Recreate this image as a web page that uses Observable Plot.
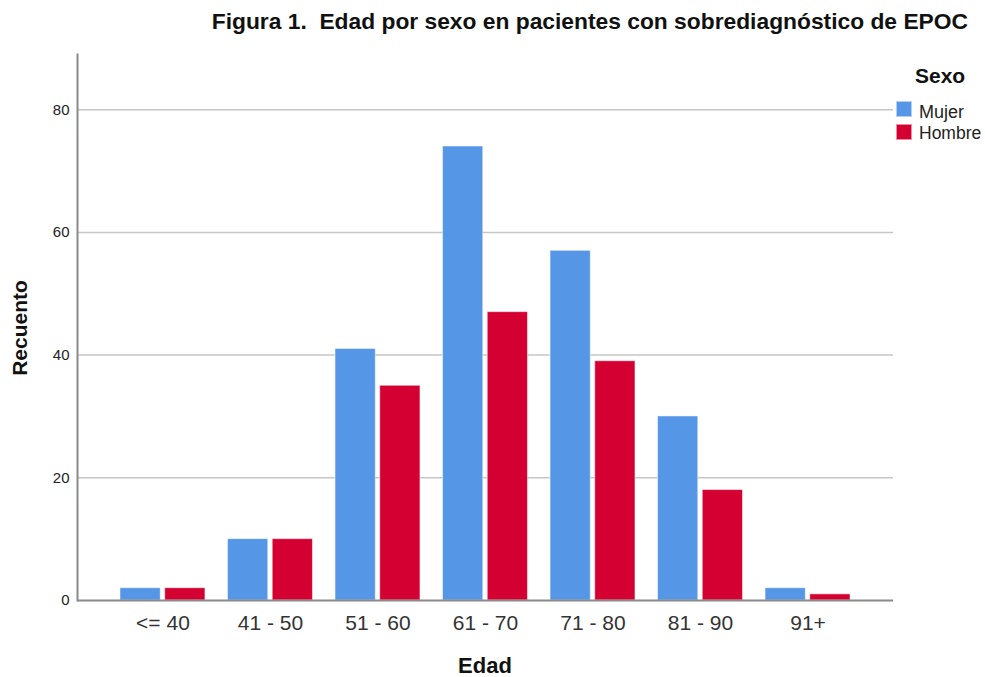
<!DOCTYPE html>
<html>
<head>
<meta charset="utf-8">
<script src="https://cdn.jsdelivr.net/npm/d3@7"></script>
<script src="https://cdn.jsdelivr.net/npm/@observablehq/plot@0.6"></script>
<style>
  body { margin: 0; background: #fff; font-family: "Liberation Sans", Arial, sans-serif; }
  #wrap { position: relative; width: 985px; height: 677px; background: #fff; overflow: hidden; }
  #wrap svg { position: absolute; left: 0; top: 0; }
  .t { position: absolute; white-space: pre; line-height: 1; }
  .title { right: 17px; top: 10px; font-size: 22.8px; font-weight: bold; color: #111; }
  .ylab { left: 20px; top: 328px; transform: translate(-50%, -50%) rotate(-90deg); font-size: 21px; font-weight: bold; color: #111; line-height: normal; }
  .xlab { left: 485px; top: 665.5px; transform: translate(-50%, -50%); font-size: 22px; font-weight: bold; color: #111; }
  .lt { left: 915px; top: 65px; font-size: 21px; font-weight: bold; color: #111; }
  .sw { position: absolute; left: 896px; width: 16px; height: 16px; box-sizing: border-box; border: 1px solid rgba(255,255,255,0.55); }
  .li { left: 919px; color: #222; }
</style>
</head>
<body>
<div id="wrap"></div>
<script>
const ages = ["<= 40", "41 - 50", "51 - 60", "61 - 70", "71 - 80", "81 - 90", "91+"];
const sexes = ["Mujer", "Hombre"];
const mujer = [2, 10, 41, 74, 57, 30, 2];
const hombre = [2, 10, 35, 47, 39, 18, 1];
const colors = ["#5596E6", "#D50032"];
const yTicks = [0, 20, 40, 60, 80];
const titleText = "Figura 1.  Edad por sexo en pacientes con sobrediagnóstico de EPOC";
const yLabel = "Recuento";
const xLabel = "Edad";
const legendTitle = "Sexo";

const data = [];
ages.forEach((a, i) => {
  data.push({age: a, sex: "Mujer", count: mujer[i]});
  data.push({age: a, sex: "Hombre", count: hombre[i]});
});

const wrap = document.getElementById("wrap");

const common = {
  width: 985,
  height: 677,
  marginTop: 54,
  marginBottom: 77,
  marginLeft: 77,
  marginRight: 92,
  style: {fontFamily: "'Liberation Sans', Arial, sans-serif", background: "transparent", overflow: "visible"},
  y: {domain: [0, 89], label: null, axis: null}
};

// Base layer: gridlines and y axis
wrap.appendChild(Plot.plot({
  ...common,
  marks: [
    Plot.ruleY(yTicks.filter(d => d > 0), {stroke: "#c6c6c6", strokeWidth: 1.5}),
    Plot.axisY({ticks: yTicks, tickSize: 0, tickPadding: 8, fontSize: 15, label: null, fill: "#222"})
  ]
}));

// Bar layer: grouped bars via fx facets
wrap.appendChild(Plot.plot({
  ...common,
  fx: {domain: ages, paddingInner: 0.21, paddingOuter: 0.4, round: false, label: null},
  x: {domain: sexes, paddingInner: 0.1, paddingOuter: 0, round: false, axis: null},
  color: {domain: sexes, range: colors},
  marks: [
    Plot.barY(data, {fx: "age", x: "sex", y: "count", fill: "sex", stroke: "white", strokeOpacity: 0.5, strokeWidth: 1}),
    Plot.axisFx({anchor: "bottom", tickSize: 0, tickPadding: 15, fontSize: 21, label: null, fill: "#333"})
  ]
}));

// Top layer: axis lines
wrap.appendChild(Plot.plot({
  ...common,
  marks: [
    Plot.ruleY([0], {stroke: "#8a8a8a", strokeWidth: 2}),
    Plot.frame({anchor: "left", stroke: "#8a8a8a", strokeWidth: 2})
  ]
}));

function addText(cls, text, style) {
  const d = document.createElement("div");
  d.className = "t " + cls;
  d.textContent = text;
  if (style) Object.assign(d.style, style);
  wrap.appendChild(d);
  return d;
}
addText("title", titleText);
addText("ylab", yLabel);
addText("xlab", xLabel);
addText("lt", legendTitle);
const swTops = [101, 124];
const labTops = [103, 125];
const labSizes = ["18px", "17.5px"];
sexes.forEach((s, i) => {
  const sw = document.createElement("div");
  sw.className = "sw";
  sw.style.top = swTops[i] + "px";
  sw.style.background = colors[i];
  wrap.appendChild(sw);
  addText("li", s, {top: labTops[i] + "px", fontSize: labSizes[i]});
});
</script>
</body>
</html>
